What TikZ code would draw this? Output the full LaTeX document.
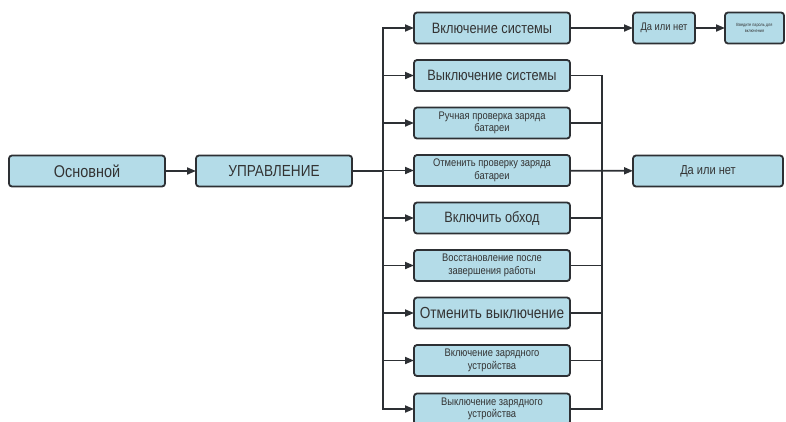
\documentclass[tikz,border=0pt]{standalone}
\usepackage{fontspec}
\setmainfont[FakeStretch=0.85]{Liberation Sans}
\usetikzlibrary{arrows.meta, positioning}
\definecolor{upsblue}{RGB}{180,220,232}
\definecolor{upsline}{RGB}{45,48,52}

\begin{document}
\begin{tikzpicture}[
    x=1pt, y=-1pt,
    node distance=16.5pt,
    mod/.style={rectangle, rounded corners=3pt, minimum width=156pt, minimum height=31pt, inner sep=2pt, outer sep=0pt, align=center, draw=upsline, line width=1.8pt, fill=upsblue, text=black!80, font=\fontsize{15}{16}\selectfont},
    small/.style={font=\fontsize{11}{12.5}\selectfont},
    wire/.style={line width=1.8pt, draw=upsline, line cap=rect},
    arrow/.style={line width=1.8pt, draw=upsline, -{Triangle[length=9pt,width=7pt]}}
]
    \useasboundingbox (0,0) rectangle (786,421);
    \node[mod, font=\fontsize{17}{18}\selectfont] (osn) at (87,171) {Основной};
    \node[mod, font=\fontsize{16}{18}\selectfont, right=31pt of osn] (upr) {УПРАВЛЕНИЕ};
    \node[mod] (vklsys) at (492,28) {Включение системы};
    \node[mod, below=of vklsys] (vyksys) {Выключение системы};
    \node[mod, small, below=of vyksys] (ruchn) {Ручная проверка заряда\\батареи};
    \node[mod, small, below=of ruchn] (otmpr) {Отменить проверку заряда\\батареи};
    \node[mod, below=of otmpr] (obhod) {Включить обход};
    \node[mod, small, below=of obhod] (vosst) {Восстановление после\\завершения работы};
    \node[mod, font=\fontsize{16}{18}\selectfont, below=of vosst] (otmvyk) {Отменить выключение};
    \node[mod, small, below=of otmvyk] (vklzu) {Включение зарядного\\устройства};
    \node[mod, small, below=of vklzu, yshift=-1pt] (vykzu) {Выключение зарядного\\устройства};
    \node[mod, minimum width=150pt, font=\fontsize{13}{15}\selectfont] (danet) at (708,171) {Да или нет};
    \node[mod, minimum width=62pt, font=\fontsize{11}{13}\selectfont] (danettop) at (664,28) {Да или нет};
    \node[mod, minimum width=59pt, font=\fontsize{4.5}{6}\selectfont] (parol) at (754.5,28) {Введите пароль для\\включения};
    \coordinate (busl) at (383,171);
    \coordinate (busr) at (602,171);
    % main line
    \draw[arrow] (osn) -- (upr);
    \draw[wire] (upr) -- (busl);
    % left bus
    \draw[wire] (vklsys.west -| busl) -- (vykzu.west -| busl);
    \foreach \n in {vklsys,vyksys,ruchn,otmpr,obhod,vosst,otmvyk,vklzu,vykzu}
        \draw[arrow] (\n.west -| busl) -- (\n.west);
    % right bus
    \draw[wire] (vyksys.east -| busr) -- (vykzu.east -| busr);
    \foreach \n in {vyksys,ruchn,obhod,vosst,otmvyk,vklzu,vykzu}
        \draw[wire] (\n.east) -- (\n.east -| busr);
    \draw[arrow] (otmpr) -- (danet);
    % top row
    \draw[arrow] (vklsys) -- (danettop);
    \draw[arrow] (danettop) -- (parol);
\end{tikzpicture}
\end{document}
